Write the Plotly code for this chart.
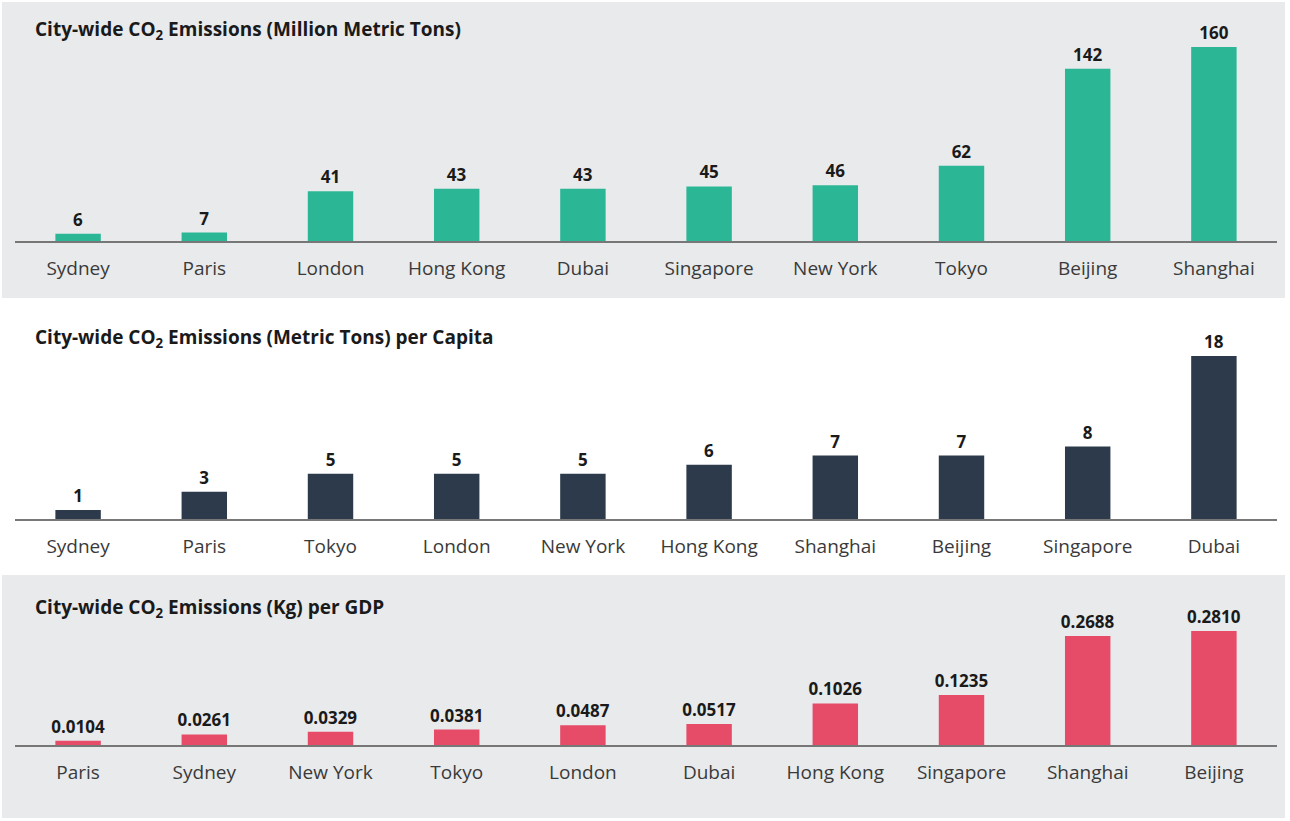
import plotly.graph_objects as go

W, H = 1290, 821

# ---- data ----
cities_total = ["Sydney", "Paris", "London", "Hong Kong", "Dubai", "Singapore", "New York", "Tokyo", "Beijing", "Shanghai"]
values_total = [6, 7, 41, 43, 43, 45, 46, 62, 142, 160]
labels_total = ["6", "7", "41", "43", "43", "45", "46", "62", "142", "160"]

cities_capita = ["Sydney", "Paris", "Tokyo", "London", "New York", "Hong Kong", "Shanghai", "Beijing", "Singapore", "Dubai"]
values_capita = [1, 3, 5, 5, 5, 6, 7, 7, 8, 18]
labels_capita = ["1", "3", "5", "5", "5", "6", "7", "7", "8", "18"]

cities_gdp = ["Paris", "Sydney", "New York", "Tokyo", "London", "Dubai", "Hong Kong", "Singapore", "Shanghai", "Beijing"]
values_gdp = [0.0104, 0.0261, 0.0329, 0.0381, 0.0487, 0.0517, 0.1026, 0.1235, 0.2688, 0.2810]
labels_gdp = ["0.0104", "0.0261", "0.0329", "0.0381", "0.0487", "0.0517", "0.1026", "0.1235", "0.2688", "0.2810"]

titles = [
    "City-wide CO<sub>2</sub> Emissions (Million Metric Tons)",
    "City-wide CO<sub>2</sub> Emissions (Metric Tons) per Capita",
    "City-wide CO<sub>2</sub> Emissions (Kg) per GDP",
]

colors = ["#2bb795", "#2c3a4b", "#e64b67"]

# panel geometry in pixels (top of plot area, baseline, bar-top for max value)
panels = [
    dict(top=20, base=241, maxtop=47, title_y=30),
    dict(top=330, base=519, maxtop=356, title_y=338),
    dict(top=600, base=745, maxtop=631, title_y=608),
]

datasets = [
    (cities_total, values_total, labels_total),
    (cities_capita, values_capita, labels_capita),
    (cities_gdp, values_gdp, labels_gdp),
]

FONT = "Open Sans"
fig = go.Figure()

x0, x1 = 15 / W, 1277 / W

for i, ((cats, vals, labs), p, col) in enumerate(zip(datasets, panels, colors)):
    n = i + 1
    xa = "x" if n == 1 else f"x{n}"
    ya = "y" if n == 1 else f"y{n}"
    fig.add_trace(go.Bar(
        x=cats, y=vals, text=labs, textposition="outside", constraintext="none",
        textfont=dict(family=FONT, size=17, color="#1a1a1a", weight="bold"),
        marker=dict(color=col, line=dict(width=0)),
        cliponaxis=False, xaxis=xa, yaxis=ya, hoverinfo="skip",
    ))
    ymax = max(vals) * (p["base"] - p["top"]) / (p["base"] - p["maxtop"])
    xkey = "xaxis" if n == 1 else f"xaxis{n}"
    ykey = "yaxis" if n == 1 else f"yaxis{n}"
    fig.update_layout({
        xkey: dict(domain=[x0, x1], anchor=ya, showline=True, linecolor="#777777", linewidth=2,
                   ticks="", showgrid=False, zeroline=False, ticklabelstandoff=9,
                   tickfont=dict(family=FONT, size=19, color="#3a3a3a"),
                   categoryorder="array", categoryarray=cats, fixedrange=True),
        ykey: dict(domain=[1 - p["base"] / H, 1 - p["top"] / H], anchor=xa, range=[0, ymax],
                   visible=False, showgrid=False, zeroline=False, fixedrange=True),
    })
    fig.add_annotation(
        text=titles[i], xref="paper", yref="paper", x=33 / W, y=1 - p["title_y"] / H,
        xanchor="left", yanchor="middle", showarrow=False,
        font=dict(family=FONT, size=19, color="#1a1a1a", weight="bold"),
    )

# panel backgrounds
for (ya0, ya1, c) in [(2, 298, "#e9eaec"), (575, 818, "#e9eaec")]:
    fig.add_shape(type="rect", xref="paper", yref="paper", x0=2 / W, x1=1285 / W,
                  y0=1 - ya1 / H, y1=1 - ya0 / H, fillcolor=c, line=dict(width=0), layer="below")

fig.update_layout(
    width=W, height=H, margin=dict(l=0, r=0, t=0, b=0),
    paper_bgcolor="white", plot_bgcolor="rgba(0,0,0,0)",
    showlegend=False, bargap=0.64,
    font=dict(family=FONT),
)

fig.write_html("out.html", config={"displayModeBar": False},
               post_script="document.body.style.margin='0';document.body.style.overflow='hidden';")
